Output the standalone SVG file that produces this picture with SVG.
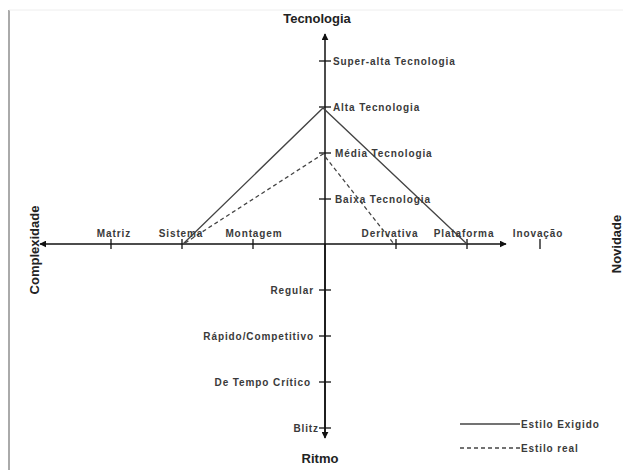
<svg xmlns="http://www.w3.org/2000/svg" width="623" height="470" viewBox="0 0 623 470">
<style>
.lbl{font-family:"Liberation Sans",Arial,sans-serif;font-size:10px;font-weight:bold;fill:#3a3a3a;letter-spacing:0.9px}
.title{font-family:"Liberation Sans",Arial,sans-serif;font-size:13px;font-weight:bold;fill:#222}
.axis{stroke:#111;stroke-width:1.5;fill:none}
.tick{stroke:#111;stroke-width:1.3}
.solid{stroke:#444;stroke-width:1.3;fill:none}
.dash{stroke:#444;stroke-width:1.3;fill:none;stroke-dasharray:4,3}
</style>
<defs>
<marker id="ah" viewBox="0 0 10 10" refX="9" refY="5" markerWidth="7" markerHeight="7" orient="auto" markerUnits="userSpaceOnUse">
<path d="M0,0 L10,5 L0,10 z" fill="#111"/>
</marker>
</defs>
<rect x="0" y="0" width="623" height="470" fill="#fff"/>
<line x1="9" y1="10" x2="9" y2="470" stroke="#aaa" stroke-width="2"/>
<line x1="9" y1="10" x2="623" y2="10" stroke="#eee" stroke-width="1"/>
<g id="connectors">
<line class="axis" x1="325" y1="437" x2="325" y2="34" marker-end="url(#ah)"/>
<line class="axis" x1="325" y1="244" x2="325" y2="438" marker-end="url(#ah)"/>
<line class="axis" x1="325" y1="244" x2="40" y2="244" marker-end="url(#ah)"/>
<line class="axis" x1="325" y1="244" x2="506" y2="244" marker-end="url(#ah)"/>
<g class="tick">
<line x1="319" y1="61" x2="331" y2="61"/>
<line x1="319" y1="107" x2="331" y2="107"/>
<line x1="319" y1="153" x2="331" y2="153"/>
<line x1="319" y1="199" x2="331" y2="199"/>
<line x1="319" y1="290" x2="331" y2="290"/>
<line x1="319" y1="336" x2="331" y2="336"/>
<line x1="319" y1="382" x2="331" y2="382"/>
<line x1="319" y1="428" x2="331" y2="428"/>
<line x1="111" y1="239" x2="111" y2="249"/>
<line x1="182" y1="239" x2="182" y2="249"/>
<line x1="253" y1="239" x2="253" y2="249"/>
<line x1="396" y1="239" x2="396" y2="249"/>
<line x1="467" y1="239" x2="467" y2="249"/>
<line x1="540" y1="239" x2="540" y2="249"/>
</g>
<polyline class="solid" points="183,244 323,108 467,244"/>
<polyline class="dash" points="185,243 323,154 394,244"/>
</g>
<g id="node-tecnologia"><text class="title" x="317" y="23" text-anchor="middle">Tecnologia</text></g>
<g id="node-ritmo"><text class="title" x="320" y="463" text-anchor="middle">Ritmo</text></g>
<g id="node-complexidade"><text class="title" transform="translate(39,250) rotate(-90)" text-anchor="middle" font-size="12">Complexidade</text></g>
<g id="node-novidade"><text class="title" transform="translate(621,244) rotate(-90)" text-anchor="middle" font-size="12">Novidade</text></g>
<g id="node-super"><text class="lbl" x="333" y="65">Super-alta Tecnologia</text></g>
<g id="node-alta"><text class="lbl" x="333" y="111">Alta Tecnologia</text></g>
<g id="node-media"><text class="lbl" x="335" y="157">Média Tecnologia</text></g>
<g id="node-baixa"><text class="lbl" x="335" y="203">Baixa Tecnologia</text></g>
<g id="node-regular"><text class="lbl" x="314" y="294" text-anchor="end">Regular</text></g>
<g id="node-rapido"><text class="lbl" x="314" y="340" text-anchor="end">Rápido/Competitivo</text></g>
<g id="node-tempo"><text class="lbl" x="311" y="386" text-anchor="end">De Tempo Crítico</text></g>
<g id="node-blitz"><text class="lbl" x="319" y="432" text-anchor="end">Blitz</text></g>
<g id="node-matriz"><text class="lbl" x="114" y="237" text-anchor="middle">Matriz</text></g>
<g id="node-sistema"><text class="lbl" x="181" y="237" text-anchor="middle">Sistema</text></g>
<g id="node-montagem"><text class="lbl" x="254" y="237" text-anchor="middle">Montagem</text></g>
<g id="node-derivativa"><text class="lbl" x="390" y="237" text-anchor="middle">Derivativa</text></g>
<g id="node-plataforma"><text class="lbl" x="464" y="237" text-anchor="middle">Plataforma</text></g>
<g id="node-inovacao"><text class="lbl" x="538" y="237" text-anchor="middle">Inovação</text></g>
<g id="node-legend">
<line class="solid" x1="460" y1="424" x2="520" y2="424"/>
<text class="lbl" x="521" y="428">Estilo Exigido</text>
<line class="dash" x1="460" y1="448" x2="520" y2="448"/>
<text class="lbl" x="521" y="452">Estilo real</text>
</g>
</svg>
